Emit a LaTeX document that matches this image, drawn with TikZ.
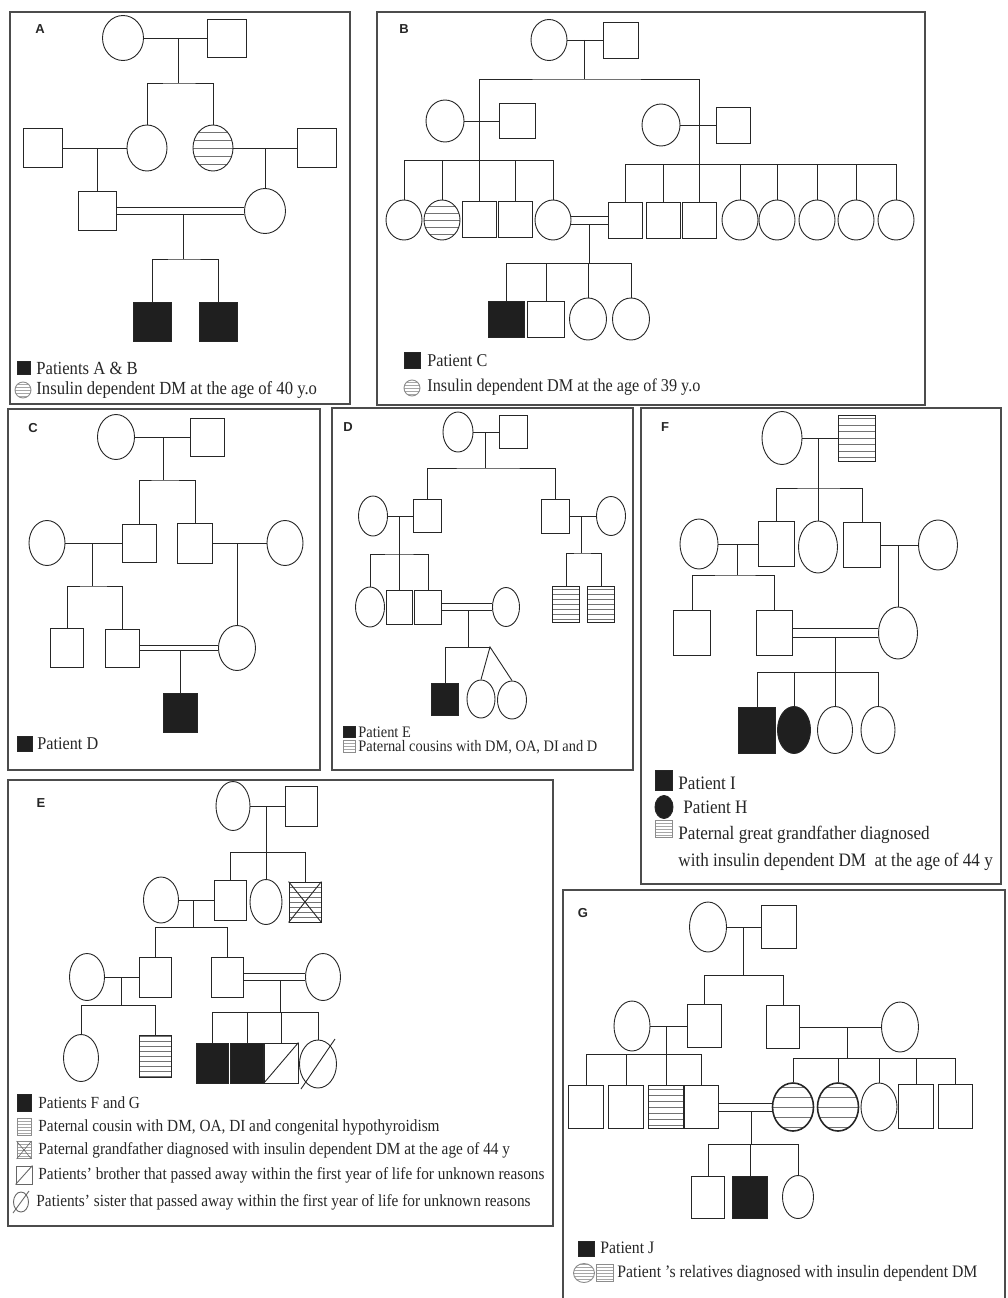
\documentclass[tikz,border=0pt]{standalone}
\usepackage{fontspec}
\setmainfont{Liberation Serif}[FakeStretch=0.9]
\newfontfamily\labelfont{Liberation Sans}
\usetikzlibrary{shapes.geometric}

\tikzset{
  male/.style 2 args={draw,rectangle,inner sep=0pt,minimum width=#1,minimum height=#2},
  female/.style 2 args={draw,ellipse,inner sep=0pt,minimum width=#1,minimum height=#2},
  patient/.style={fill=black!88},
  hatch/.style={path picture={
    \foreach \k in {0,#1,...,30}
      \draw[black!55,line width=0.8pt]
        ([yshift=\k pt]path picture bounding box.west) -- ([yshift=\k pt]path picture bounding box.east)
        ([yshift=-\k pt]path picture bounding box.west) -- ([yshift=-\k pt]path picture bounding box.east);}},
  hatch/.default=6,
  pale/.style={draw=black!45,path picture={
    \foreach \k in {0,3,...,12}
      \draw[black!35,line width=0.5pt]
        ([yshift=\k pt]path picture bounding box.west) -- ([yshift=\k pt]path picture bounding box.east)
        ([yshift=-\k pt]path picture bounding box.west) -- ([yshift=-\k pt]path picture bounding box.east);}},
  legtext/.style={anchor=west,inner sep=0pt,font=\fontsize{#1}{#1}\selectfont},
  legtext/.default=17,
  panel/.style={font=\labelfont\bfseries\fontsize{13}{13}\selectfont,inner sep=0pt},
  panelbox/.style={line width=1.5pt,draw=black!70},
}

\begin{document}
\begin{tikzpicture}[x=1pt,y=-1pt,line width=0.9pt,color=black!85]
  \useasboundingbox (0,0) rectangle (1008,1298);

  % A
  \draw[panelbox] (10,12) rectangle (350,404);
  \node[panel] (labA) at (40,29) {A};
  \node (A1) at (123,38) [female={41}{45}] {};
  \node (A2) at (227,38) [male={39}{38}] {};
  \node (A3) at (43,148) [male={39}{39}] {};
  \node (A4) at (147,148) [female={40}{46}] {};
  \node (A5) at (213,148) [female={40}{46},hatch=8] {};
  \node (A6) at (317,148) [male={39}{39}] {};
  \node (A7) at (97,211) [male={38}{39}] {};
  \node (A8) at (265,211) [female={41}{45}] {};
  \node (A9) at (152,322) [male={38}{39},patient] {};
  \node (A10) at (218,322) [male={38}{39},patient] {};
  \coordinate (mA1) at (178,38);    \coordinate (sA1) at (178,83);
  \coordinate (mA2) at (97,148);    \coordinate (mA3) at (265,148);
  \coordinate (mA4) at (183,214.5); \coordinate (sA4) at (183,259);
  \draw (A1) -- (A2) (mA1) -- (sA1);
  \draw (A4.north) |- (sA1) -| (A5.north);
  \draw (A3) -- (A4) (A5) -- (A6) (mA2) -- (A7) (mA3) -- (A8);
  \draw ([yshift=3.5pt]A7.east) -- ([yshift=3.5pt]A8.west)
        ([yshift=-3.5pt]A7.east) -- ([yshift=-3.5pt]A8.west);
  \draw (mA4) -- (sA4);
  \draw (A9.north) |- (sA4) -| (A10.north);
  \node (lA1) at (24,368) [male={13}{13},patient] {};
  \node (tA1) at (36,368) [legtext=18.5] {Patients A \& B};
  \node (lA2) at (23,390) [female={16}{16},pale] {};
  \node (tA2) at (36,390) [legtext=18.5] {Insulin dependent DM at the age of 40 y.o};

  % B
  \draw[panelbox] (377,12) rectangle (925,405);
  \node[panel] (labB) at (404,29) {B};
  \node (B1) at (549,40) [female={36}{41}] {};
  \node (B2) at (621,40) [male={35}{36}] {};
  \node (B3) at (445,121) [female={38}{42}] {};
  \node (B4) at (517,121) [male={36}{35}] {};
  \node (B5) at (661,125) [female={38}{42}] {};
  \node (B6) at (733,125) [male={34}{36}] {};
  \node (B7) at (404,220) [female={36}{40}] {};
  \node (B8) at (442,220) [female={36}{40},hatch=7] {};
  \node (B9) at (479,219) [male={34}{36}] {};
  \node (B10) at (515,219) [male={34}{36}] {};
  \node (B11) at (553,220) [female={36}{40}] {};
  \node (B12) at (625,220) [male={34}{36}] {};
  \node (B13) at (663,220) [male={34}{36}] {};
  \node (B14) at (699,220) [male={34}{36}] {};
  \foreach \i/\x in {15/740,16/777,17/817,18/856,19/896}
    \node (B\i) at (\x,220) [female={36}{40}] {};
  \node (B20) at (506,319) [male={36}{36},patient] {};
  \node (B21) at (546,319) [male={37}{36}] {};
  \node (B22) at (588,319) [female={37}{42}] {};
  \node (B23) at (631,319) [female={37}{42}] {};
  \coordinate (mB1) at (584,40);  \coordinate (sB1) at (584,79);
  \coordinate (sB2) at (479,160); \coordinate (sB3) at (699,164);
  \coordinate (mB4) at (589,224); \coordinate (sB4) at (589,263);
  \draw (B1) -- (B2) (mB1) -- (sB1);
  \draw (B9.north) |- (sB1) -| (B14.north);
  \draw (B3) -- (B4) (B5) -- (B6);
  \foreach \c in {B7,B8,B10,B11} \draw (\c.north) |- (sB2);
  \foreach \c in {B12,B13,B15,B16,B17,B18,B19} \draw (\c.north) |- (sB3);
  \draw ([yshift=4pt]B11.east) -- ([yshift=4pt]B12.west)
        ([yshift=-4pt]B11.east) -- ([yshift=-4pt]B12.west);
  \draw (mB4) -- (sB4);
  \foreach \c in {B20,B21,B22,B23} \draw (\c.north) |- (sB4);
  \node (lB1) at (412,360) [male={16}{16},patient] {};
  \node (tB1) at (427,361) [legtext=18] {Patient C};
  \node (lB2) at (412,388) [female={16}{16},pale] {};
  \node (tB2) at (427,387) [legtext=18] {Insulin dependent DM at the age of 39 y.o};

  % C
  \draw[panelbox] (8,409) rectangle (320,770);
  \node[panel] (labC) at (33,428) {C};
  \node (C1) at (116,437) [female={37}{45}] {};
  \node (C2) at (207,437) [male={34}{38}] {};
  \node (C3) at (47,543) [female={36}{45}] {};
  \node (C4) at (139,543) [male={34}{38}] {};
  \node (C5) at (195,543) [male={35}{40}] {};
  \node (C6) at (285,543) [female={36}{45}] {};
  \node (C7) at (67,648) [male={33}{39}] {};
  \node (C8) at (122,648) [male={34}{38}] {};
  \node (C9) at (237,648) [female={37}{45}] {};
  \node (C10) at (180,713) [male={34}{39},patient] {};
  \coordinate (mC1) at (163,437); \coordinate (sC1) at (163,480);
  \coordinate (mC2) at (92,543);  \coordinate (sC2) at (92,586);
  \coordinate (mC3) at (237,543); \coordinate (mC4) at (180,650.5);
  \draw (C1) -- (C2) (mC1) -- (sC1);
  \draw (C4.north) |- (sC1) -| (C5.north);
  \draw (C3) -- (C4) (C5) -- (C6) (mC2) -- (sC2);
  \draw (C7.north) |- (sC2) -| (C8.north);
  \draw (mC3) -- (C9) (mC4) -- (C10);
  \draw ([yshift=2.5pt]C8.east) -- ([yshift=2.5pt]C9.west)
        ([yshift=-2.5pt]C8.east) -- ([yshift=-2.5pt]C9.west);
  \node (lC1) at (25,744) [male={15}{15},patient] {};
  \node (tC1) at (37,744) [legtext=18] {Patient D};

  % D
  \draw[panelbox] (332,408) rectangle (633,770);
  \node[panel] (labD) at (348,427) {D};
  \node (D1) at (458,432) [female={30}{40}] {};
  \node (D2) at (513,432) [male={28}{33}] {};
  \node (D3) at (373,516) [female={29}{40}] {};
  \node (D4) at (427,516) [male={28}{33}] {};
  \node (D5) at (555,516) [male={28}{34}] {};
  \node (D6) at (611,516) [female={29}{39}] {};
  \node (D7) at (370,607) [female={29}{40}] {};
  \node (D8) at (399,607) [male={26}{34}] {};
  \node (D9) at (428,607) [male={27}{34}] {};
  \node (D10) at (566,604) [male={27}{36},hatch=5] {};
  \node (D11) at (601,604) [male={27}{36},hatch=5] {};
  \node (D12) at (506,607) [female={27}{39}] {};
  \node (D13) at (445,699) [male={27}{32},patient] {};
  \node (D14) at (481,699) [female={28}{38}] {};
  \node (D15) at (512,700) [female={29}{38}] {};
  \coordinate (mD1) at (485,432);   \coordinate (sD1) at (485,468);
  \coordinate (mD2) at (399,516);   \coordinate (sD2) at (399,554);
  \coordinate (mD3) at (581,516);   \coordinate (sD3) at (581,553);
  \coordinate (mD4) at (468,610.5); \coordinate (sD4) at (468,647);
  \coordinate (tD) at (490,647);
  \draw (D1) -- (D2) (mD1) -- (sD1);
  \draw (D4.north) |- (sD1) -| (D5.north);
  \draw (D3) -- (D4) (D5) -- (D6) (mD2) -- (sD2) (mD3) -- (sD3);
  \draw (D7.north) |- (sD2) -| (D9.north) (D8.north) -- (sD2);
  \draw (D10.north) |- (sD3) -| (D11.north);
  \draw ([yshift=3.5pt]D9.east) -- ([yshift=3.5pt]D12.west)
        ([yshift=-3.5pt]D9.east) -- ([yshift=-3.5pt]D12.west);
  \draw (mD4) -- (sD4);
  \draw (D13.north) |- (tD);
  \draw (D14.north) -- (tD) -- (D15.north);
  \node (lD1) at (349,732) [male={12}{11},patient] {};
  \node (tD1) at (358,732) [legtext=16] {Patient E};
  \node (lD2) at (349,746) [male={12}{12},pale] {};
  \node (tD2) at (358,747) [legtext=16] {Paternal cousins with DM, OA, DI and D};

  % F
  \draw[panelbox] (641,408) rectangle (1001,884);
  \node[panel] (labF) at (665,427) {F};
  \node (F1) at (782,438) [female={40}{53}] {};
  \node (F2) at (857,438) [male={37}{46},hatch=6.5] {};
  \node (F3) at (699,544) [female={38}{50}] {};
  \node (F4) at (776,544) [male={36}{45}] {};
  \node (F5) at (818,547) [female={39}{52}] {};
  \node (F6) at (862,545) [male={37}{45}] {};
  \node (F7) at (938,545) [female={39}{50}] {};
  \node (F8) at (692,633) [male={37}{45}] {};
  \node (F9) at (774,633) [male={36}{45}] {};
  \node (F10) at (898,633) [female={39}{52}] {};
  \node (F11) at (757,730) [male={37}{46},patient] {};
  \node (F12) at (794,730) [female={33}{47},patient] {};
  \node (F13) at (835,730) [female={35}{47}] {};
  \node (F14) at (878,730) [female={34}{47}] {};
  \coordinate (mF1) at (818,438);   \coordinate (sF1) at (818,488);
  \coordinate (mF2) at (737,544);   \coordinate (sF2) at (737,575);
  \coordinate (mF3) at (898,545);
  \coordinate (mF4) at (835,637.5); \coordinate (sF4) at (835,672);
  \draw (F1) -- (F2) (mF1) -- (sF1);
  \draw (F4.north) |- (sF1) -| (F6.north) (F5.north) -- (sF1);
  \draw (F3) -- (F4) (F6) -- (F7) (mF2) -- (sF2) (mF3) -- (F10);
  \draw (F8.north) |- (sF2) -| (F9.north);
  \draw ([yshift=4.5pt]F9.east) -- ([yshift=4.5pt]F10.west)
        ([yshift=-4.5pt]F9.east) -- ([yshift=-4.5pt]F10.west);
  \draw (mF4) -- (sF4);
  \foreach \c in {F11,F12,F13,F14} \draw (\c.north) |- (sF4);
  \node (lF1) at (664,780) [male={17}{20},patient] {};
  \node (tF1) at (678,783) [legtext=19] {Patient I};
  \node (lF2) at (664,807) [female={18}{23},patient] {};
  \node (tF2) at (683,807) [legtext=19] {Patient H};
  \node (lF3) at (664,829) [male={17}{17},pale] {};
  \node (tF3) at (678,835) [legtext=19] {Paternal great grandfather diagnosed};
  \node (tF4) at (678,862) [legtext=19] {with insulin dependent DM\ \ at the age of 44 y};

  % E
  \draw[panelbox] (8,780) rectangle (553,1226);
  \node[panel] (labE) at (41,803) {E};
  \node (E1) at (233,806) [female={34}{49}] {};
  \node (E2) at (301,806) [male={32}{40}] {};
  \node (E3) at (161,900) [female={35}{46}] {};
  \node (E4) at (230,900) [male={32}{40}] {};
  \node (E5) at (266,902) [female={32}{45}] {};
  \node (E6) at (305,902) [male={32}{40},hatch=5] {};
  \node (E7) at (155,977) [male={32}{40}] {};
  \node (E8) at (227,977) [male={32}{40}] {};
  \node (E9) at (87,977) [female={35}{47}] {};
  \node (E10) at (323,977) [female={35}{47}] {};
  \node (E11) at (81,1058) [female={35}{47}] {};
  \node (E12) at (155,1056) [male={32}{42},hatch=5] {};
  \node (E13) at (212,1063) [male={32}{40},patient] {};
  \node (E14) at (247,1063) [male={33}{40},patient] {};
  \node (E15) at (281,1063) [male={34}{40}] {};
  \node (E16) at (318,1064) [female={37}{48}] {};
  \coordinate (mE1) at (266,806);   \coordinate (sE1) at (266,852);
  \coordinate (mE2) at (193,900);   \coordinate (sE2) at (193,927);
  \coordinate (mE3) at (121,977);   \coordinate (sE3) at (121,1005);
  \coordinate (mE4) at (280,980.5); \coordinate (sE4) at (280,1012);
  \draw (E1) -- (E2) (mE1) -- (sE1);
  \draw (E4.north) |- (sE1) -| (E6.north) (E5.north) -- (sE1);
  \draw (E3) -- (E4) (mE2) -- (sE2);
  \draw (E7.north) |- (sE2) -| (E8.north);
  \draw (E9) -- (E7) (mE3) -- (sE3);
  \draw (E11.north) |- (sE3) -| (E12.north);
  \draw ([yshift=3.5pt]E8.east) -- ([yshift=3.5pt]E10.west)
        ([yshift=-3.5pt]E8.east) -- ([yshift=-3.5pt]E10.west);
  \draw (mE4) -- (sE4);
  \foreach \c in {E13,E14,E15,E16} \draw (\c.north) |- (sE4);
  \draw (E6.north west) -- (E6.south east) (E6.south west) -- (E6.north east);
  \draw (E15.south west) -- (E15.north east);
  \draw ([shift={(-17,25)}]E16.center) -- ([shift={(17,-25)}]E16.center);
  \node (lE1) at (24,1103) [male={14}{17},patient] {};
  \node (tE1) at (38,1103) [legtext] {Patients F and G};
  \node (lE2) at (24,1127) [male={14}{17},pale] {};
  \node (tE2) at (38,1127) [legtext] {Paternal cousin with DM, OA, DI and congenital hypothyroidism};
  \node (lE3) at (24,1150) [male={14}{17},pale] {};
  \draw[draw=black!60,line width=0.6pt] (lE3.north west) -- (lE3.south east) (lE3.south west) -- (lE3.north east);
  \node (tE3) at (38,1150) [legtext] {Paternal grandfather diagnosed with insulin dependent DM at the age of 44 y};
  \node (lE4) at (24,1175) [male={16}{18},draw=black!60] {};
  \draw[draw=black!60] (lE4.south west) -- (lE4.north east);
  \node (tE4) at (38,1175) [legtext] {Patients' brother that passed away within the first year of life for unknown reasons};
  \node (lE5) at (21,1202) [female={15}{20},draw=black!60] {};
  \draw[draw=black!60] ([shift={(-8,11)}]lE5.center) -- ([shift={(8,-11)}]lE5.center);
  \node (tE5) at (36,1202) [legtext] {Patients' sister that passed away within the first year of life for unknown reasons};

  % G
  \draw[panelbox] (563,1298) -- (563,890) -- (1005,890) -- (1005,1298);
  \node[panel] (labG) at (583,913) {G};
  \node (G1) at (708,927) [female={37}{50}] {};
  \node (G2) at (779,927) [male={35}{43}] {};
  \node (G3) at (632,1026) [female={36}{50}] {};
  \node (G4) at (704,1026) [male={34}{43}] {};
  \node (G5) at (783,1027) [male={33}{43}] {};
  \node (G6) at (900,1027) [female={37}{50}] {};
  \node (G7) at (586,1107) [male={35}{43}] {};
  \node (G8) at (626,1107) [male={35}{43}] {};
  \node (G9) at (666,1107) [male={35}{43},hatch=6] {};
  \node (G10) at (701,1107) [male={34}{43}] {};
  \node (G11) at (793,1107) [female={41}{48},hatch=10,line width=1.6pt] {};
  \node (G12) at (838,1107) [female={41}{48},hatch=10,line width=1.6pt] {};
  \node (G13) at (879,1107) [female={36}{48}] {};
  \node (G14) at (916,1106) [male={35}{44}] {};
  \node (G15) at (955,1106) [male={34}{44}] {};
  \node (G16) at (708,1197) [male={33}{42}] {};
  \node (G17) at (750,1197) [male={35}{42},patient] {};
  \node (G18) at (798,1197) [female={31}{43}] {};
  \coordinate (mG1) at (743,927);  \coordinate (sG1) at (743,975);
  \coordinate (mG2) at (666,1026); \coordinate (sG2) at (666,1054);
  \coordinate (mG3) at (847,1027); \coordinate (sG3) at (847,1058);
  \coordinate (mG4) at (751,1111); \coordinate (sG4) at (751,1144);
  \draw (G1) -- (G2) (mG1) -- (sG1);
  \draw (G4.north) |- (sG1) -| (G5.north);
  \draw (G3) -- (G4) (G5) -- (G6) (mG2) -- (sG2) (mG3) -- (sG3);
  \foreach \c in {G7,G8,G9,G10} \draw (\c.north) |- (sG2);
  \foreach \c in {G11,G12,G13,G14,G15} \draw (\c.north) |- (sG3);
  \draw ([yshift=4pt]G10.east) -- ([yshift=4pt]G11.west)
        ([yshift=-4pt]G10.east) -- ([yshift=-4pt]G11.west);
  \draw (mG4) -- (sG4);
  \foreach \c in {G16,G17,G18} \draw (\c.north) |- (sG4);
  \node (lG1) at (586,1249) [male={16}{15},patient] {};
  \node (tG1) at (600,1248) [legtext=17.5] {Patient J};
  \node (lG2) at (584,1273) [female={21}{19},pale] {};
  \node (lG3) at (605,1273) [male={17}{17},pale] {};
  \node (tG2) at (617,1273) [legtext=17.5] {Patient 's relatives diagnosed with insulin dependent DM};
\end{tikzpicture}
\end{document}
